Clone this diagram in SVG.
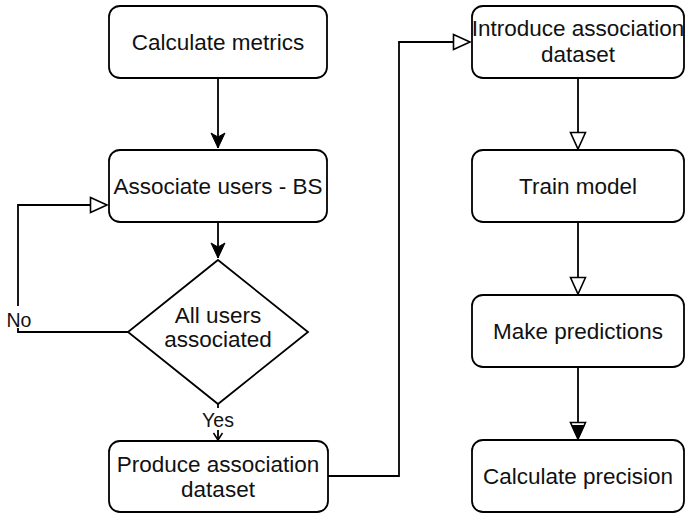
<svg xmlns="http://www.w3.org/2000/svg" width="685" height="513" viewBox="0 0 685 513">
<style>
.box{fill:#fff;stroke:#000;stroke-width:1.8}
.t{font-family:"Liberation Sans",Arial,sans-serif;font-size:22.5px;fill:#111;text-anchor:middle}
.lbl{font-family:"Liberation Sans",Arial,sans-serif;font-size:19.5px;fill:#111}
.e{fill:none;stroke:#000;stroke-width:1.8}
</style>
<defs>
<marker id="classic" markerUnits="userSpaceOnUse" markerWidth="18" markerHeight="16" viewBox="0 0 18 16" refX="16" refY="8" orient="auto">
<path d="M1,1 L16,8 L1,15 L5,8 Z" fill="#000" stroke="#000" stroke-width="1"/>
</marker>
<marker id="block" markerUnits="userSpaceOnUse" markerWidth="20" markerHeight="18" viewBox="0 0 20 18" refX="18" refY="9" orient="auto">
<path d="M1.5,1.5 L18,9 L1.5,16.5 Z" fill="#fff" stroke="#000" stroke-width="1.6"/>
</marker>
<marker id="vee" markerUnits="userSpaceOnUse" markerWidth="12" markerHeight="12" viewBox="0 0 12 12" refX="10" refY="6" orient="auto">
<path d="M3,1.5 L10,6 L3,10.5" fill="none" stroke="#000" stroke-width="1.5"/>
</marker>
</defs>
<rect width="685" height="513" fill="#fff"/>
<g id="connectors">
<path class="e" d="M218,78 V148" marker-end="url(#classic)"/>
<path class="e" d="M218,222 V258" marker-end="url(#classic)"/>
<path class="e" d="M128,332 H18 V205 H107" marker-end="url(#block)"/>
<rect x="5" y="306" width="30" height="22" fill="#fff"/>
<text class="lbl" x="19" y="327" text-anchor="middle">No</text>
<path class="e" d="M218,404 V440" marker-end="url(#vee)"/>
<rect x="198" y="408" width="40" height="22" fill="#fff"/>
<text class="lbl" x="218" y="427" text-anchor="middle">Yes</text>
<path class="e" d="M328,476 H399 V42 H470" marker-end="url(#block)"/>
<path class="e" d="M578,78 V149" marker-end="url(#block)"/>
<path class="e" d="M578,222 V294" marker-end="url(#block)"/>
<path class="e" d="M578,367 V439" marker-end="url(#block)"/>
<path d="M571,425 L578,439 L585,425 Z" fill="#000"/>
</g>
<g id="calc-metrics">
<rect class="box" x="109" y="6" width="218" height="72" rx="11"/>
<text class="t" x="218" y="50">Calculate metrics</text>
</g>
<g id="associate">
<rect class="box" x="109" y="150" width="218" height="72" rx="11"/>
<text class="t" x="218" y="194">Associate users - BS</text>
</g>
<g id="decision">
<path class="box" d="M218,260 L308,332 L218,404 L128,332 Z"/>
<text class="t" x="218" y="323">All users</text>
<text class="t" x="218" y="347">associated</text>
</g>
<g id="produce">
<rect class="box" x="109" y="441" width="219" height="71" rx="11"/>
<text class="t" x="218" y="472">Produce association</text>
<text class="t" x="218" y="497">dataset</text>
</g>
<g id="introduce">
<rect class="box" x="472" y="6" width="212" height="72" rx="11"/>
<text class="t" x="578" y="36">Introduce association</text>
<text class="t" x="578" y="62">dataset</text>
</g>
<g id="train">
<rect class="box" x="472" y="150" width="212" height="72" rx="11"/>
<text class="t" x="578" y="194">Train model</text>
</g>
<g id="predict">
<rect class="box" x="472" y="295" width="212" height="72" rx="11"/>
<text class="t" x="578" y="339">Make predictions</text>
</g>
<g id="precision">
<rect class="box" x="472" y="440" width="212" height="72" rx="11"/>
<text class="t" x="578" y="484">Calculate precision</text>
</g>
</svg>
